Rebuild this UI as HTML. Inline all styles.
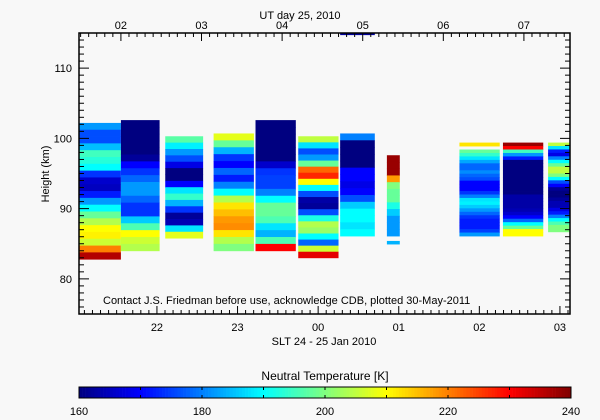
<!DOCTYPE html>
<html><head><meta charset="utf-8"><style>
body{margin:0;background:#f8f8f8;}
svg{display:block;font-family:"Liberation Sans",sans-serif;}
text{fill:#000;font-size:11px;}
</style></head><body>
<svg id="chart" width="600" height="420" viewBox="0 0 600 420">
<rect x="0" y="0" width="600" height="420" fill="#f8f8f8"/>
<g id="cells"></g>
<g id="axes"></g>
<g id="cbar"></g>
<text x="300" y="19" text-anchor="middle">UT day 25, 2010</text>
<text x="324" y="345" text-anchor="middle">SLT 24 - 25 Jan 2010</text>
<text transform="translate(49,174) rotate(-90)" text-anchor="middle">Height (km)</text>
<text x="103" y="304">Contact J.S. Friedman before use, acknowledge CDB, plotted 30-May-2011</text>
<text x="325" y="380" text-anchor="middle" style="font-size:12px">Neutral Temperature [K]</text>
</svg>
<script>
// ---- data ----
const colStart = [1.48, 2.0, 2.55, 3.15, 3.67, 4.2, 4.72, 5.3, 6.2, 6.74, 7.3];
const colEnd   = [2.0, 2.48, 3.02, 3.65, 4.17, 4.7, 5.15, 5.46, 6.7, 7.24, 7.57];
const colTop   = [102.2, 102.6, 100.3, 100.7, 102.6, 100.3, 100.7, 97.6, 99.4, 99.4, 99.4];
const colBot   = [82.8, 84.0, 85.8, 84.0, 84.0, 83.0, 86.1, 86.1, 86.1, 86.1, 86.7];
const col1 = [182,176,176,185,195,193,190,174,166,165,172,182,190,198,204,210,211,206,220,236];
const col2 = [160,160,160,160,160,162,170,174,178,182,182,178,174,174,186,196,210,206,204];
const col3 = [197,189,182,176,168,160,160,170,188,194,184,174,162,164,188,208];
const col4 = [208,198,184,174,170,178,172,180,190,204,212,215,218,219,212,204,200];
const col5 = [160,160,160,160,160,160,166,174,175,175,180,190,198,198,196,188,184,196,230];
const col6 = [205,188,176,182,198,222,227,210,190,176,163,162,176,192,204,202,190,178,206,232];
const col7 = [180,160,160,160,160,170,170,168,170,176,186,190,190,188,190];
const col8 = [238,238,238,218,200,198,198,192,186,182,182,182];
const col9 = [212,null,198,194,188,183,178,178,181,178,176,170,170,170,174,180,188,189,186,182,178,174,172,172,172,175,182];
const col10 = [238,230,195,182,172,160,160,160,160,160,160,160,160,160,160,163,163,163,163,164,166,170,178,190,198,210,210];
const col11 = [205,188,172,168,180,190,198,205,205,200,190,176,170,162,160,160,162,164,164,168,172,180,190,196,200,200];
const columns = [col1,col2,col3,col4,col5,col6,col7,col8,col9,col10,col11];
// extra small segments: [tStart,tEnd,hTop,hBot,value]
const extraStart = [5.3, 4.72];
const extraEnd   = [5.46, 5.15];
const extraTop   = [85.4, 115];
const extraBot   = [84.9, 114.7];
const extraVal   = [184, 162];
const yTicks = [80, 90, 100, 110];
const utTicks = [2,3,4,5,6,7];
const utLabels = ["02","03","04","05","06","07"];
const sltTicks = [22,23,24,25,26,27];
const sltLabels = ["22","23","00","01","02","03"];
const cbTicks = [160,180,200,220,240];

// ---- scales ----
const X0=79, X1=570, Y0=33, Y1=314;
const tMin = 1.48, tMax = 1.48 + (X1-X0)/80.6;
const hMin = 75, hMax = 115;
const xs = t => X0 + (t - tMin)/(tMax - tMin)*(X1-X0);
const ys = h => Y1 - (h - hMin)/(hMax - hMin)*(Y1-Y0);
const sltOffset = 2.447 - 22; // UT = SLT + offset
const vMin=160, vMax=240;
function jet(v){
  let f=Math.max(0,Math.min(1,(v-vMin)/(vMax-vMin)));
  const c=x=>Math.round(255*Math.max(0,Math.min(1,x)));
  const r=c(1.5-Math.abs(4*f-3)), g=c(1.5-Math.abs(4*f-2)), b=c(1.5-Math.abs(4*f-1));
  return `rgb(${r},${g},${b})`;
}
const NS="http://www.w3.org/2000/svg";
function mk(tag,attrs,parent){const e=document.createElementNS(NS,tag);for(const k in attrs)e.setAttribute(k,attrs[k]);parent.appendChild(e);return e;}

const cells=document.getElementById('cells');
columns.forEach((vals,i)=>{
  const n=vals.length, dh=(colTop[i]-colBot[i])/n;
  const x=xs(colStart[i]), w=xs(colEnd[i])-x;
  vals.forEach((v,j)=>{
    if(v===null) return;
    const hT=colTop[i]-j*dh, hB=hT-dh;
    const r=mk('rect',{x:x,y:ys(hT),width:w,height:ys(hB)-ys(hT)+0.4,fill:jet(v)},cells);
    
    
  });
});
extraVal.forEach((v,i)=>{
  const x=xs(extraStart[i]);
  const r=mk('rect',{x:x,y:ys(extraTop[i]),width:xs(extraEnd[i])-x,height:ys(extraBot[i])-ys(extraTop[i]),fill:jet(v)},cells);
  
  
});

const ax=document.getElementById('axes');
const frame=mk('rect',{x:X0,y:Y0,width:X1-X0,height:Y1-Y0,fill:'none',stroke:'#000','stroke-width':1.5},ax);


function line(x1,y1,x2,y2){mk('line',{x1,y1,x2,y2,stroke:'#000','stroke-width':1},ax);}
// y ticks
for(let h=76;h<=114;h++){
  const y=ys(h), L=(h%10===0)?10:5;
  line(X0,y,X0+L,y); line(X1,y,X1-L,y);
}
yTicks.forEach(h=>{
  const t=mk('text',{x:72,y:ys(h)+4,'text-anchor':'end'},ax);t.textContent=h;
  
  
});
// top UT ticks
for(let k=Math.ceil(tMin*10);k<=Math.floor(tMax*10);k++){
  const t=k/10, x=xs(t), L=(k%10===0)?8:4;
  line(x,Y0,x,Y0+L);
}
utTicks.forEach((t,i)=>{
  const e=mk('text',{x:xs(t),y:29,'text-anchor':'middle'},ax);e.textContent=utLabels[i];
  
  
});
// bottom SLT ticks
for(let k=Math.ceil((tMin-sltOffset)*10);k<=Math.floor((tMax-sltOffset)*10);k++){
  const s=k/10, x=xs(s+sltOffset), L=(k%10===0)?8:4;
  line(x,Y1,x,Y1-L);
}
sltTicks.forEach((s,i)=>{
  const e=mk('text',{x:xs(s+sltOffset),y:331,'text-anchor':'middle'},ax);e.textContent=sltLabels[i];
  
  
});

// colorbar
const cb=document.getElementById('cbar');
const CX0=79, CX1=571, CY0=387, CY1=398;
const cx=v=>CX0+(v-vMin)/(vMax-vMin)*(CX1-CX0);
for(let v=vMin;v<vMax;v+=0.5){
  mk('rect',{x:cx(v),y:CY0,width:cx(v+0.5)-cx(v)+0.3,height:CY1-CY0,fill:jet(v+0.25)},cb);
}
mk('rect',{x:CX0,y:CY0,width:CX1-CX0,height:CY1-CY0,fill:'none',stroke:'#000','stroke-width':1},cb);
for(let v=vMin+10;v<vMax;v+=10){mk('line',{x1:cx(v),y1:CY0,x2:cx(v),y2:CY0+3,stroke:'#000'},cb);mk('line',{x1:cx(v),y1:CY1,x2:cx(v),y2:CY1-3,stroke:'#000'},cb);}
cbTicks.forEach(v=>{
  const e=mk('text',{x:cx(v),y:415,'text-anchor':'middle'},cb);e.textContent=v;
  
  
});
</script>
</body></html>
